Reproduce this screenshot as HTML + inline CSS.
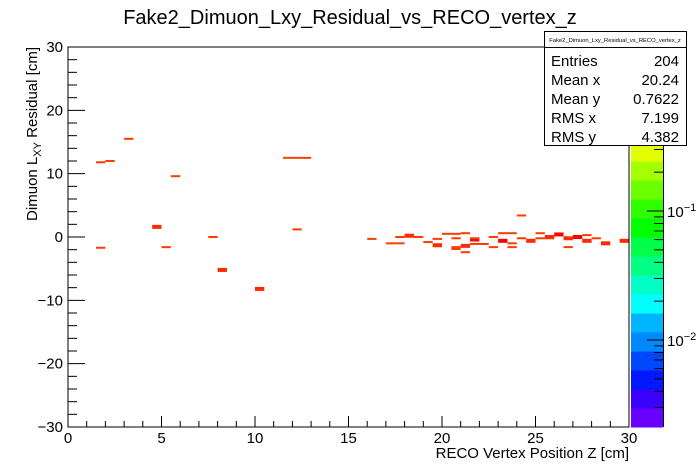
<!DOCTYPE html>
<html><head><meta charset="utf-8"><style>
html,body{margin:0;padding:0;background:#fff;}
svg{display:block;font-family:"Liberation Sans",sans-serif;}
</style></head><body>
<svg id="c" width="698" height="474" viewBox="0 0 698 474">
<rect x="0" y="0" width="698" height="474" fill="#fff"/>
<text x="350" y="24" font-size="20" text-anchor="middle" fill="#000">Fake2_Dimuon_Lxy_Residual_vs_RECO_vertex_z</text>
<g id="palette"></g>
<g id="cells"></g>
<rect x="68" y="47" width="561" height="380" fill="none" stroke="#000" stroke-width="1"/>
<g id="axes"></g>
<text x="629" y="458" font-size="15" text-anchor="end">RECO Vertex Position Z [cm]</text>
<text transform="translate(37,47) rotate(-90)" font-size="15" text-anchor="end">Dimuon L<tspan font-size="11" dy="4">XY</tspan><tspan dy="-4"> Residual [cm]</tspan></text>
<g>
<rect x="544.5" y="31.5" width="142" height="114" fill="#fff" stroke="#000"/>
<line x1="544.5" y1="47.5" x2="686.5" y2="47.5" stroke="#000"/>
<text x="615" y="42" font-size="5.8" text-anchor="middle">Fake2_Dimuon_Lxy_Residual_vs_RECO_vertex_z</text>
<g font-size="15">
<text x="551" y="66">Entries</text><text x="679" y="66" text-anchor="end">204</text>
<text x="551" y="85">Mean x</text><text x="679" y="85" text-anchor="end">20.24</text>
<text x="551" y="104">Mean y</text><text x="679" y="104" text-anchor="end">0.7622</text>
<text x="551" y="123">RMS x</text><text x="679" y="123" text-anchor="end">7.199</text>
<text x="551" y="142">RMS y</text><text x="679" y="142" text-anchor="end">4.382</text>
</g></g>
</svg>
<script>
const xs=[1.5,2.0,3.0,5.5,11.5,12.0,12.5,1.5,4.5,5.0,7.5,8.0,10.0,12.0,16.0,
17.0,17.5,17.5,18.0,18.5,19.0,19.5,19.5,20.0,20.5,20.5,20.5,20.5,21.0,21.0,21.0,21.5,21.5,21.5,22.0,22.5,22.5,23.0,23.0,23.5,23.5,23.5,24.0,24.0,24.5,25.0,25.0,25.5,25.5,26.0,26.5,26.5,27.0,27.5,27.5,28.0,28.5,29.5];
const ys=[11.8,12.0,15.5,9.6,12.5,12.5,12.5,-1.7,1.6,-1.6,0.0,-5.2,-8.2,1.2,-0.3,
-1.0,-1.0,0.0,0.2,0.0,-0.8,-0.3,-1.3,0.5,0.5,-0.2,-1.6,-1.9,0.6,-1.4,-2.4,-0.4,-1.1,-0.2,-1.1,0.0,-1.6,0.6,-0.6,0.6,-1.0,-1.6,3.4,-0.2,-0.6,0.6,-0.2,-0.2,0.0,0.4,-0.2,-1.6,0.0,0.3,-0.6,-0.2,-1.0,-0.6];
const counts=[1,1,1,1,1,1,1,1,2,1,1,2,2,1,1,
1,1,1,2,1,1,1,2,1,1,1,1,1,1,2,1,3,1,1,1,1,1,1,3,1,1,1,1,1,2,1,1,1,2,3,2,1,3,1,2,1,2,2];
const paletteColors=["#6a00ff","#3c00ff","#0018ff","#0048ff","#0088ff","#00b4ff","#00ffff","#00ffc4","#00ff84","#00ff48","#00ff00","#30ff00","#6cff00","#a4ff00","#e4ff00","#ffd800","#ffa000","#ff7000","#ff3c00","#ff0000"];
const NS="http://www.w3.org/2000/svg";
const X0=68,X1=629,Y0=427,Y1=47;
const xPos=v=>X0+(v-0)/30*(X1-X0);
const yPos=v=>Y0-(v+30)/60*(Y0-Y1);
function mk(t,a,p){const e=document.createElementNS(NS,t);for(const k in a)e.setAttribute(k,a[k]);p.appendChild(e);return e;}
const cg=document.getElementById('cells');
const cellColor=c=>c>=3?"#ff0000":(c==2?"#ff2a00":"#ff3c00");
for(let i=0;i<xs.length;i++){
  const h=counts[i]>=2?4:2;
  const r=mk('rect',{x:xPos(xs[i]),y:yPos(ys[i])-h/2,width:xPos(0.5)-xPos(0),height:h,fill:cellColor(counts[i])},cg);
  
  
}
const pg=document.getElementById('palette');
const bh=(Y0-Y1)/paletteColors.length;
for(let i=0;i<paletteColors.length;i++){
  const r=mk('rect',{x:631,y:Y0-(i+1)*bh,width:32,height:bh+0.5,fill:paletteColors[i]},pg);
  
  
}
const pY=v=>211-129*Math.log10(v/0.1);
for(const dec of [0.001,0.01,0.1,1]){for(let m=1;m<10;m++){const v=dec*m;const y=pY(v);if(y<Y1||y>Y0)continue;
  mk('line',{x1:663,x2:663-(m==1?16:9),y1:y,y2:y,stroke:"#000"},pg);}}
mk('line',{x1:663.5,x2:663.5,y1:Y1,y2:Y0,stroke:"#000"},pg);
const t1=mk('text',{x:667,y:217,'font-size':15},pg);t1.innerHTML='10<tspan font-size="11" dy="-6">−1</tspan>';


const t2=mk('text',{x:667,y:346,'font-size':15},pg);t2.innerHTML='10<tspan font-size="11" dy="-6">−2</tspan>';


const ag=document.getElementById('axes');
const xTicks=[0,5,10,15,20,25,30];
const yTicks=[-30,-20,-10,0,10,20,30];
for(let v=0;v<=30;v+=1){const x=xPos(v);mk('line',{x1:x,x2:x,y1:Y0,y2:Y0-(v%5==0?11:6),stroke:"#000"},ag);}
for(let v=-30;v<=30;v+=2){const y=yPos(v);mk('line',{x1:X0,x2:X0+(v%10==0?17:9),y1:y,y2:y,stroke:"#000"},ag);}
for(const v of xTicks){const t=mk('text',{x:xPos(v),y:443,'font-size':15,'text-anchor':'middle'},ag);t.textContent=String(v);
  
  }
for(const v of yTicks){const t=mk('text',{x:63,y:yPos(v)+5,'font-size':15,'text-anchor':'end'},ag);t.textContent=(v<0?'−':'')+Math.abs(v);
  
  }
</script>
</body></html>
